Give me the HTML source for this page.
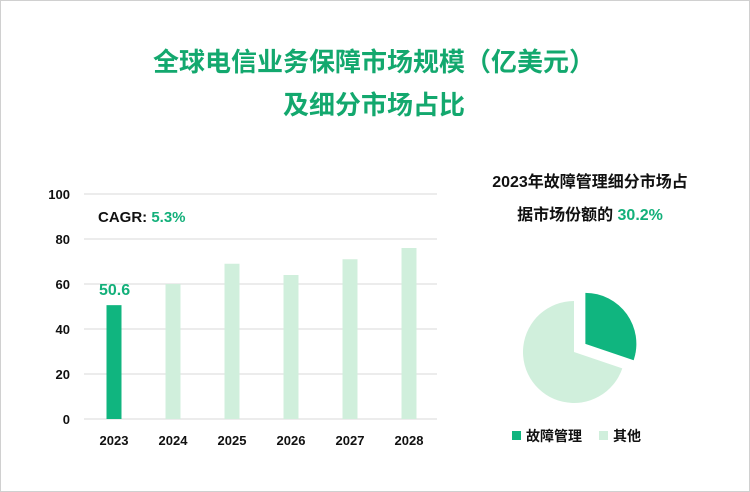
<!DOCTYPE html>
<html><head><meta charset="utf-8"><style>
body{margin:0;width:750px;height:492px;overflow:hidden;background:#fff;font-family:"Liberation Sans","Noto Sans CJK SC",sans-serif}
#frame{position:absolute;left:0;top:0;width:748px;height:490px;border:1px solid #d0d0d0}
</style></head><body>
<div id="frame"></div>
<svg width="750" height="492" style="position:absolute;left:0;top:0">
<text x="374" y="71" text-anchor="middle" font-size="26" font-weight="bold" fill="#13a86e">全球电信业务保障市场规模（亿美元）</text>
<text x="374" y="114" text-anchor="middle" font-size="26" font-weight="bold" fill="#13a86e">及细分市场占比</text>
<g id="bars"></g>
<text x="98" y="222" font-size="15" font-weight="bold" fill="#111">CAGR: <tspan fill="#13b07a">5.3%</tspan></text>
<text x="590" y="187" text-anchor="middle" font-size="16" font-weight="bold" fill="#111">2023年故障管理细分市场占</text>
<text x="590" y="220" text-anchor="middle" font-size="16" font-weight="bold" fill="#111">据市场份额的 <tspan fill="#13b07a">30.2%</tspan></text>
<g id="pie"></g>
<rect x="512" y="431" width="9" height="9" fill="#10b57f"/>
<text x="526" y="441" font-size="14" font-weight="bold" fill="#111">故障管理</text>
<rect x="599" y="431" width="9" height="9" fill="#d0efdc"/>
<text x="613" y="441" font-size="14" font-weight="bold" fill="#111">其他</text>
</svg>
<script>
const categories=["2023","2024","2025","2026","2027","2028"];
const values=[50.6,60,69,64,71,76];
const yTicks=[0,20,40,60,80,100];
const pieLabels=["故障管理","其他"];
const pieValues=[30.2,69.8];
const NS="http://www.w3.org/2000/svg";
function mk(t,a,p){const e=document.createElementNS(NS,t);for(const k in a)e.setAttribute(k,a[k]);p.appendChild(e);return e;}
const g=document.getElementById('bars');
const y=v=>419-v*2.25, x=i=>114+i*59;
yTicks.forEach(t=>{
 const l=mk('line',{x1:84,x2:437,y1:y(t),y2:y(t),stroke:'#d9d9d9','stroke-width':1},g);
 
 
 const tx=mk('text',{x:70,y:y(t)+5,'text-anchor':'end','font-size':13,'font-weight':'bold',fill:'#111'},g);
 tx.textContent=t;
 
 
});
categories.forEach((c,i)=>{
 const r=mk('rect',{x:x(i)-7.5,y:y(values[i]),width:15,height:values[i]*2.25,fill:i==0?'#10b57f':'#d0efdc'},g);
 
 
 const tx=mk('text',{x:x(i),y:445,'text-anchor':'middle','font-size':13,'font-weight':'bold',fill:'#111'},g);
 tx.textContent=c;
 
 
});
const vl=mk('text',{x:x(0)-15,y:y(values[0])-10,'font-size':16,'font-weight':'bold',fill:'#13b07a'},g);
vl.textContent=values[0];


const pg=document.getElementById('pie');
const total=pieValues.reduce((a,b)=>a+b,0);
let a0=0;const cx=574,cy=352,R=51;
pieValues.forEach((v,i)=>{
 const a1=a0+v/total*2*Math.PI;
 let ox=0,oy=0;
 if(i==0){const m=(a0+a1)/2;ox=Math.sin(m)*14;oy=-Math.cos(m)*14;}
 const px=a=>cx+ox+R*Math.sin(a),py=a=>cy+oy-R*Math.cos(a);
 const d=`M${cx+ox},${cy+oy}L${px(a0)},${py(a0)}A${R},${R} 0 ${a1-a0>Math.PI?1:0} 1 ${px(a1)},${py(a1)}Z`;
 const p=mk('path',{d:d,fill:i==0?'#10b57f':'#d0efdc'},pg);
 
 
 a0=a1;
});
</script>
</body></html>
